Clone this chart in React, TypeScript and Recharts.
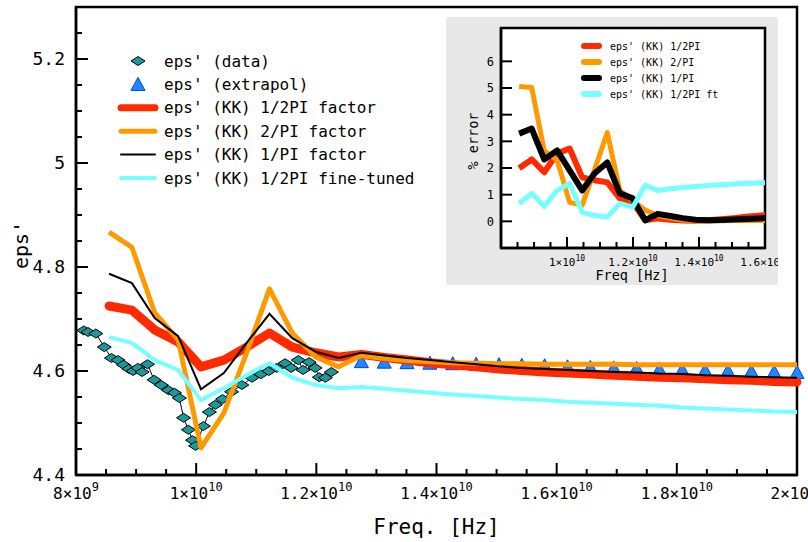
import React from 'react';
import {
  ComposedChart,
  Line,
  Scatter,
  XAxis,
  YAxis,
  ReferenceArea,
  Legend,
} from 'recharts';

const MONO = '"DejaVu Sans Mono", monospace';

// KK grid, GHz
const freqKK = [
  8.55, 8.93, 9.31, 9.7, 10.08, 10.46, 10.84, 11.22, 11.6, 11.99, 12.37, 12.75, 13.13, 13.51, 13.89,
  14.27, 14.66, 15.04, 15.42, 15.8, 16.18, 16.56, 16.95, 17.33, 17.71, 18.09, 18.47, 18.85, 19.24,
  19.62, 20.0,
];
const epsHalfPi = [
  4.725, 4.717, 4.679, 4.656, 4.608, 4.621, 4.646, 4.673, 4.646, 4.635, 4.627, 4.632, 4.626, 4.621,
  4.616, 4.612, 4.608, 4.604, 4.601, 4.598, 4.596, 4.594, 4.592, 4.59, 4.588, 4.587, 4.585, 4.583,
  4.582, 4.58, 4.579,
];
const epsTwoPi = [
  4.867, 4.838, 4.712, 4.66, 4.452, 4.519, 4.635, 4.758, 4.673, 4.627, 4.608, 4.63, 4.624, 4.62,
  4.618, 4.616, 4.615, 4.614, 4.614, 4.613, 4.613, 4.613, 4.613, 4.612, 4.612, 4.612, 4.612, 4.612,
  4.612, 4.612, 4.612,
];
const epsOnePi = [
  4.787, 4.769, 4.702, 4.667, 4.565, 4.596, 4.654, 4.71, 4.663, 4.637, 4.625, 4.635, 4.63, 4.625,
  4.621, 4.617, 4.613, 4.609, 4.606, 4.604, 4.602, 4.6, 4.598, 4.597, 4.595, 4.594, 4.592, 4.591,
  4.589, 4.588, 4.587,
];
const epsFine = [
  4.665, 4.654, 4.621, 4.602, 4.544, 4.567, 4.592, 4.615, 4.587, 4.573, 4.567, 4.569, 4.566, 4.562,
  4.558, 4.555, 4.552, 4.549, 4.546, 4.544, 4.541, 4.539, 4.537, 4.535, 4.533, 4.53, 4.528, 4.526,
  4.524, 4.522, 4.521,
];

// extrapolated eps'
const freqExtra = [
  12.75, 13.13, 13.51, 13.89, 14.27, 14.66, 15.04, 15.42, 15.8, 16.18, 16.56, 16.95, 17.33, 17.71,
  18.09, 18.47, 18.85, 19.24, 19.62, 20.0,
];
const epsExtra = [
  4.618, 4.617, 4.616, 4.615, 4.614, 4.613, 4.612, 4.611, 4.61, 4.608, 4.607, 4.606, 4.605, 4.603,
  4.602, 4.601, 4.6, 4.599, 4.598, 4.597,
];

// measured eps'
const freqData = [
  8.13, 8.2, 8.33, 8.47, 8.59, 8.7, 8.79, 8.88, 8.95, 9.03, 9.1, 9.19, 9.3, 9.42, 9.54, 9.64, 9.72,
  9.79, 9.87, 9.94, 9.99, 10.12, 10.22, 10.32, 10.44, 10.59, 10.76, 10.93, 11.08, 11.21, 11.34,
  11.48, 11.58, 11.7, 11.78, 11.88, 11.98, 12.05, 12.15, 12.25,
];
const epsData = [
  4.678, 4.675, 4.672, 4.646, 4.625, 4.621, 4.612, 4.604, 4.6, 4.606, 4.598, 4.613, 4.583, 4.573,
  4.563, 4.558, 4.548, 4.51, 4.487, 4.467, 4.456, 4.494, 4.521, 4.535, 4.546, 4.56, 4.573, 4.587,
  4.594, 4.6, 4.606, 4.615, 4.606, 4.621, 4.602, 4.617, 4.606, 4.588, 4.587, 4.598,
];

// inset: % error
const freqErr = [
  8.55, 8.93, 9.31, 9.7, 10.08, 10.46, 10.84, 11.22, 11.6, 11.99, 12.37, 12.75, 13.13, 13.51, 13.89,
  14.27, 14.66, 15.04, 15.42, 15.8, 16.18,
];
const errHalfPi = [
  1.99, 2.32, 1.84, 2.55, 2.73, 1.65, 1.54, 1.46, 0.86, 0.71, 0.04, 0.11, 0.06, 0.03, 0.02, 0.04,
  0.08, 0.12, 0.17, 0.21, 0.25,
];
const errTwoPi = [
  5.06, 5.02, 2.65, 2.3, 0.71, 0.6, 1.95, 3.33, 1.16, 0.78, 0.42, 0.22, 0.12, 0.05, 0.01, 0.0, 0.02,
  0.03, 0.03, 0.03, 0.03,
];
const errOnePi = [
  3.29, 3.48, 2.32, 2.66, 1.91, 1.16, 1.8, 2.21, 1.05, 0.86, 0.04, 0.28, 0.2, 0.12, 0.06, 0.04, 0.05,
  0.07, 0.09, 0.11, 0.13,
];
const errFine = [
  0.67, 1.05, 0.56, 1.16, 1.42, 0.34, 0.22, 0.16, 0.67, 0.53, 1.35, 1.16, 1.22, 1.27, 1.31, 1.34,
  1.37, 1.4, 1.42, 1.44, 1.46,
];

// axis ticks / labels
const xMajor = [8, 10, 12, 14, 16, 18, 20];
const xMantissa = ['8', '1', '1.2', '1.4', '1.6', '1.8', '2'];
const xExponent = ['9', '10', '10', '10', '10', '10', '10'];
const yMajor = [4.4, 4.6, 4.8, 5, 5.2];
const yMajorLabels = ['4.4', '4.6', '4.8', '5', '5.2'];
const insetXMajor = [10, 12, 14, 16];
const insetXMantissa = ['1', '1.2', '1.4', '1.6'];
const insetYTicks = [0, 1, 2, 3, 4, 5, 6];

const mainLegend = [
  "eps' (data)",
  "eps' (extrapol)",
  "eps' (KK) 1/2PI factor",
  "eps' (KK) 2/PI factor",
  "eps' (KK) 1/PI factor",
  "eps' (KK) 1/2PI fine-tuned",
];
const insetLegend = ["eps' (KK) 1/2PI", "eps' (KK) 2/PI", "eps' (KK) 1/PI", "eps' (KK) 1/2PI ft"];

const RED = '#ff2a00';
const ORANGE = '#ff9900';
const CYAN = '#77ffff';
const TEAL = '#1a9a9a';
const BLUE = '#1e88ff';

const zip = (xs: number[], ys: number[]) => xs.map((f, i) => ({ f, v: ys[i] }));

const xTicksMain: number[] = [];
for (let k = 0; k <= 24; k++) xTicksMain.push(8 + k * 0.5);
const yTicksMain: number[] = [];
for (let k = 0; k <= 17; k++) yTicksMain.push(Math.round(440 + k * 5) / 100);
const xTicksInset: number[] = [];
for (let k = 0; k <= 16; k++) xTicksInset.push(8 + k * 0.5);

const Diamond = ({ cx, cy }: any) => (
  <polygon
    points={`${cx - 7},${cy} ${cx},${cy - 4.5} ${cx + 7},${cy} ${cx},${cy + 4.5}`}
    fill={TEAL}
    stroke="#000"
    strokeWidth={1}
  />
);

const Triangle = ({ cx, cy }: any) => (
  <polygon
    points={`${cx},${cy - 7} ${cx + 7},${cy + 6} ${cx - 7},${cy + 6}`}
    fill={BLUE}
    stroke="#0040f0"
    strokeWidth={1}
  />
);

const MainXTick = ({ x, y, payload }: any) => {
  const i = xMajor.indexOf(payload.value);
  return (
    <g>
      <line x1={x} y1={y} x2={x} y2={y - (i >= 0 ? 12 : 6)} stroke="#000" strokeWidth={2} />
      {i >= 0 && (
        <text x={x} y={y + 24} textAnchor="middle" fontSize={16} fontFamily={MONO} fill="#000">
          <tspan>{xMantissa[i]}×10</tspan>
          <tspan dy={-8} fontSize={12}>
            {xExponent[i]}
          </tspan>
        </text>
      )}
    </g>
  );
};

const MainYTick = ({ x, y, payload }: any) => {
  const i = yMajor.indexOf(payload.value);
  return (
    <g>
      <line x1={x} y1={y} x2={x + (i >= 0 ? 12 : 6)} y2={y} stroke="#000" strokeWidth={2} />
      {i >= 0 && (
        <text x={x - 11} y={y} dy="0.35em" textAnchor="end" fontSize={18} fontFamily={MONO} fill="#000">
          {yMajorLabels[i]}
        </text>
      )}
    </g>
  );
};

const InsetXTick = ({ x, y, payload }: any) => {
  const i = insetXMajor.indexOf(payload.value);
  const major = payload.value % 2 === 0;
  return (
    <g>
      <line x1={x} y1={y} x2={x} y2={y - (major ? 11 : 6)} stroke="#000" strokeWidth={2} />
      {i >= 0 && (
        <text x={x} y={y + 18} textAnchor="middle" fontSize={11} fontFamily={MONO} fill="#000">
          <tspan>{insetXMantissa[i]}×10</tspan>
          <tspan dy={-5} fontSize={8}>
            10
          </tspan>
        </text>
      )}
    </g>
  );
};

const InsetYTick = ({ x, y, payload }: any) => (
  <g>
    <line x1={x} y1={y} x2={x + 11} y2={y} stroke="#000" strokeWidth={2} />
    <text x={x - 7} y={y} dy="0.35em" textAnchor="end" fontSize={12} fontFamily={MONO} fill="#000">
      {payload.value}
    </text>
  </g>
);

const MainLegend = () => (
  <svg width={330} height={140} style={{ display: 'block' }}>
    {mainLegend.map((name, i) => {
      const cy = 11 + i * 23.4;
      let sym: React.ReactNode = null;
      if (i === 0) sym = <Diamond cx={28} cy={cy} />;
      else if (i === 1) sym = <Triangle cx={28} cy={cy} />;
      else {
        const st = [
          { c: RED, w: 7 },
          { c: ORANGE, w: 5 },
          { c: '#000', w: 2 },
          { c: CYAN, w: 4 },
        ][i - 2];
        sym = (
          <line x1={11} y1={cy} x2={45} y2={cy} stroke={st.c} strokeWidth={st.w} strokeLinecap="round" />
        );
      }
      return (
        <g key={name}>
          {sym}
          <text x={54} y={cy} dy="0.35em" fontSize={16} fontFamily={MONO} fill="#000">
            {name}
          </text>
        </g>
      );
    })}
  </svg>
);

const InsetLegend = () => (
  <svg width={160} height={70} style={{ display: 'block' }}>
    {insetLegend.map((name, i) => {
      const cy = 9 + i * 16;
      const c = [RED, ORANGE, '#000', CYAN][i];
      return (
        <g key={name}>
          <line x1={8} y1={cy} x2={23} y2={cy} stroke={c} strokeWidth={6} strokeLinecap="round" />
          <text x={34} y={cy} dy="0.35em" fontSize={10} fontFamily={MONO} fill="#000">
            {name}
          </text>
        </g>
      );
    })}
  </svg>
);

const MainYLabel = ({ viewBox }: any) => {
  const x = 21;
  const y = viewBox.y + viewBox.height / 2 + 4;
  return (
    <text x={x} y={y} transform={`rotate(-90, ${x}, ${y})`} textAnchor="middle" dy="0.35em" fontSize={20} fontFamily={MONO} fill="#000">
      eps'
    </text>
  );
};

const MainXLabel = ({ viewBox }: any) => (
  <text x={viewBox.x + viewBox.width / 2} y={viewBox.y + 59} textAnchor="middle" fontSize={21} fontFamily={MONO} fill="#000">
    Freq. [Hz]
  </text>
);

const InsetYLabel = ({ viewBox }: any) => {
  const x = 27;
  const y = viewBox.y + viewBox.height / 2 + 3;
  return (
    <text x={x} y={y} transform={`rotate(-90, ${x}, ${y})`} textAnchor="middle" dy="0.35em" fontSize={13.5} fontFamily={MONO} fill="#000">
      % error
    </text>
  );
};

const InsetXLabel = ({ viewBox }: any) => (
  <text x={viewBox.x + viewBox.width / 2 - 1} y={viewBox.y + 32} textAnchor="middle" fontSize={13.5} fontFamily={MONO} fill="#000">
    Freq [Hz]
  </text>
);

function Inset() {
  return (
    <div
      style={{
        position: 'absolute',
        left: 446,
        top: 17,
        width: 332,
        height: 268,
        background: '#e8e8e8',
        overflow: 'hidden',
      }}
    >
      <div style={{ position: 'absolute', left: 55, top: 11, width: 264, height: 220, background: '#fff' }} />
      <div style={{ position: 'absolute', left: 0, top: 0 }}>
        <ComposedChart width={332} height={268} margin={{ top: 11, right: 13, bottom: 0, left: 0 }}>
          <XAxis
            type="number"
            dataKey="f"
            domain={[8, 16]}
            allowDataOverflow
            ticks={xTicksInset}
            interval={0}
            tick={<InsetXTick />}
            tickLine={false}
            tickSize={0}
            tickMargin={0}
            height={37}
            axisLine={{ stroke: '#000', strokeWidth: 2.5 }}
            label={{ content: (p: any) => <InsetXLabel {...p} /> }}
          />
          <YAxis
            type="number"
            domain={[-1, 7.25]}
            allowDataOverflow
            ticks={insetYTicks}
            interval={0}
            tick={<InsetYTick />}
            tickLine={false}
            tickSize={0}
            tickMargin={0}
            width={55}
            axisLine={{ stroke: '#000', strokeWidth: 2.5 }}
            label={{ content: (p: any) => <InsetYLabel {...p} /> }}
          />
          <Line data={zip(freqErr, errHalfPi)} dataKey="v" stroke={RED} strokeWidth={6} dot={false} isAnimationActive={false} strokeLinejoin="round" />
          <Line data={zip(freqErr, errTwoPi)} dataKey="v" stroke={ORANGE} strokeWidth={5} dot={false} isAnimationActive={false} strokeLinejoin="round" />
          <Line data={zip(freqErr, errOnePi)} dataKey="v" stroke="#000" strokeWidth={6} dot={false} isAnimationActive={false} strokeLinejoin="round" />
          <Line data={zip(freqErr, errFine)} dataKey="v" stroke={CYAN} strokeWidth={5} dot={false} isAnimationActive={false} strokeLinejoin="round" />
          <ReferenceArea x1={8} x2={16} y1={-1} y2={7.25} fill="none" stroke="#000" strokeWidth={2.5} ifOverflow="visible" />
          <Legend
            layout="vertical"
            align="center"
            verticalAlign="middle"
            wrapperStyle={{ left: 130, top: 20, width: 160 }}
            content={() => <InsetLegend />}
          />
        </ComposedChart>
      </div>
    </div>
  );
}

export default function App() {
  return (
    <div style={{ position: 'absolute', left: 0, top: 0, width: 808, height: 542, background: '#fff' }}>
      <ComposedChart width={808} height={542} margin={{ top: 7, right: 11, bottom: 0, left: 0 }}>
        <XAxis
          type="number"
          dataKey="f"
          domain={[8, 20]}
          ticks={xTicksMain}
          interval={0}
          tick={<MainXTick />}
          tickLine={false}
          tickSize={0}
          tickMargin={0}
          height={67}
          axisLine={{ stroke: '#000', strokeWidth: 2.5 }}
          label={{ content: (p: any) => <MainXLabel {...p} /> }}
        />
        <YAxis
          type="number"
          domain={[4.4, 5.3]}
          ticks={yTicksMain}
          interval={0}
          tick={<MainYTick />}
          tickLine={false}
          tickSize={0}
          tickMargin={0}
          width={76}
          axisLine={{ stroke: '#000', strokeWidth: 2.5 }}
          label={{ content: (p: any) => <MainYLabel {...p} /> }}
        />
        <Scatter
          data={zip(freqData, epsData)}
          dataKey="v"
          shape={(p: any) => <Diamond {...p} />}
          line={{ stroke: '#000', strokeWidth: 1 }}
          isAnimationActive={false}
          zIndex={300}
        />
        <Scatter
          data={zip(freqExtra, epsExtra)}
          dataKey="v"
          shape={(p: any) => <Triangle {...p} />}
          isAnimationActive={false}
          zIndex={300}
        />
        <Line data={zip(freqKK, epsHalfPi)} dataKey="v" stroke={RED} strokeWidth={9} dot={false} isAnimationActive={false} strokeLinecap="round" strokeLinejoin="round" />
        <Line data={zip(freqKK, epsTwoPi)} dataKey="v" stroke={ORANGE} strokeWidth={5} dot={false} isAnimationActive={false} strokeLinejoin="round" />
        <Line data={zip(freqKK, epsOnePi)} dataKey="v" stroke="#000" strokeWidth={2} dot={false} isAnimationActive={false} />
        <Line data={zip(freqKK, epsFine)} dataKey="v" stroke={CYAN} strokeWidth={4} dot={false} isAnimationActive={false} strokeLinejoin="round" />
        <ReferenceArea x1={8} x2={20} y1={4.4} y2={5.3} fill="none" stroke="#000" strokeWidth={2.5} ifOverflow="visible" />
        <Legend
          layout="vertical"
          align="center"
          verticalAlign="middle"
          wrapperStyle={{ left: 110, top: 50, width: 330 }}
          content={() => <MainLegend />}
        />
      </ComposedChart>
      <Inset />
    </div>
  );
}
